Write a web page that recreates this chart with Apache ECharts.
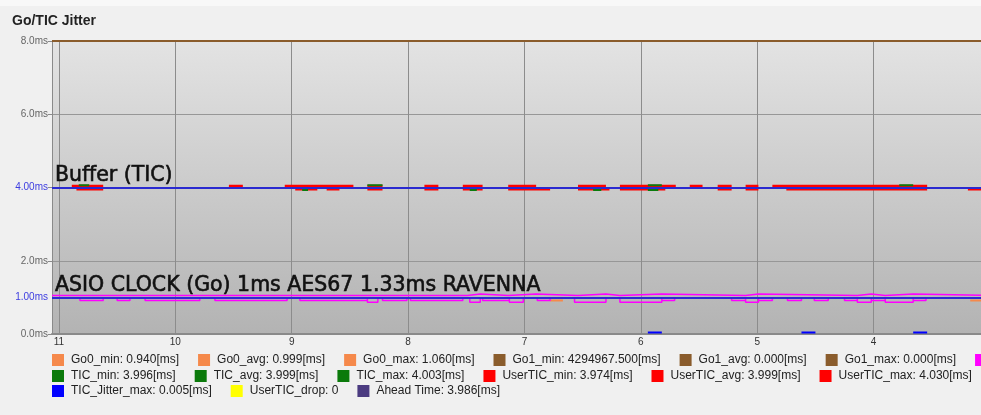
<!DOCTYPE html>
<html>
<head>
<meta charset="utf-8">
<script src="https://cdn.jsdelivr.net/npm/echarts@6/dist/echarts.min.js"></script>
<style>
html,body{margin:0;padding:0;background:#f0f0f0;}
#c{width:981px;height:415px;}
</style>
</head>
<body>
<div id="c"></div>
<script>
// ---- data (seconds ago on x, milliseconds on y) ----
const xTicks = [11, 10, 9, 8, 7, 6, 5, 4];
const yTicks = [0, 2, 4, 6, 8];
const xLeft = 11.06, xRight = 3.0;

const legendRow1 = ['Go0_min: 0.940[ms]', 'Go0_avg: 0.999[ms]', 'Go0_max: 1.060[ms]', 'Go1_min: 4294967.500[ms]', 'Go1_avg: 0.000[ms]', 'Go1_max: 0.000[ms]', 'Go_Jitter_max: 0.060[ms]'];
const legendRow2 = ['TIC_min: 3.996[ms]', 'TIC_avg: 3.999[ms]', 'TIC_max: 4.003[ms]', 'UserTIC_min: 3.974[ms]', 'UserTIC_avg: 3.999[ms]', 'UserTIC_max: 4.030[ms]'];
const legendRow3 = ['TIC_Jitter_max: 0.005[ms]', 'UserTIC_drop: 0', 'Ahead Time: 3.986[ms]'];

// reference lines and their annotations
const refLevels = [4.0, 1.0];
const refLabels = ['4.00ms', '1.00ms'];
const refNotes = ['Buffer (TIC)', 'ASIO CLOCK (Go) 1ms AES67 1.33ms RAVENNA'];

// segments [start, end] in seconds, with the level they sit at
const userTicMaxSegs = [[10.89,10.62],[9.54,9.42],[9.06,8.47],[8.35,8.22],[7.86,7.74],[7.53,7.36],[7.14,6.90],[6.54,6.30],[6.18,5.70],[5.58,5.47],[5.34,5.22],[5.10,4.99],[4.87,3.54]];
const userTicMaxLevel = 4.044;
const userTicMinSegs = [[10.85,10.62],[8.97,8.78],[8.70,8.59],[8.35,8.22],[7.86,7.74],[7.53,7.36],[7.14,6.78],[6.54,6.27],[6.18,5.79],[5.34,5.22],[5.10,4.99],[4.75,3.54],[3.19,3.0]];
const userTicMinLevel = 3.954;
const ticMaxSegs = [[10.83,10.74],[8.35,8.22],[5.94,5.82],[3.78,3.66]];
const ticMaxLevel = 4.06;
const ticMinSegs = [[8.91,8.86],[7.47,7.41],[6.41,6.34],[5.94,5.85]];
const ticMinLevel = 3.935;
const ticJitterSegs = [[5.94,5.82],[4.62,4.50],[3.66,3.54]];
const ticJitterLevel = 0.04;
const go0MinSegs = [[6.78,6.67],[3.17,3.0]];
const go0MinLevel = 0.915;
const go1MinSegs = [[11.06,3.0]];
const go1MinLevel = 8.0;   // 4294967.5 ms, pinned at the top of the scale

// Go jitter envelope (step lines): base level + [start, end, level] steps
const goHighBase = 1.05;
const goHighSteps = [[7.49,7.38,1.09],[7.14,6.90,1.09],[6.54,6.30,1.09],[6.18,5.82,1.09],[5.10,4.99,1.09],[4.14,4.02,1.09],[3.90,3.66,1.09]];
const goLowBase = 0.98;
const goLowSteps = [[10.82,10.62,0.915],[10.50,10.39,0.915],[10.26,9.79,0.915],[9.66,9.04,0.915],[8.93,8.35,0.915],[8.35,8.26,0.87],[8.22,8.01,0.915],[7.98,7.53,0.915],[7.47,7.38,0.87],[7.36,7.13,0.915],[7.13,7.01,0.87],[6.89,6.78,0.915],[6.57,6.30,0.87],[6.18,5.82,0.87],[5.82,5.71,0.915],[5.22,5.10,0.915],[5.10,4.99,0.87],[4.99,4.87,0.915],[4.74,4.62,0.915],[4.51,4.39,0.915],[4.25,4.14,0.915],[4.14,4.02,0.87],[4.02,3.90,0.915],[3.90,3.66,0.87],[3.66,3.55,0.915]];

// ---- builders ----
function segData(segs, level) {
  const out = [];
  segs.forEach(function (s) { out.push([s[0], level], [s[1], level], null); });
  return out;
}
function stepData(base, steps) {
  const out = [[xLeft, base]];
  steps.forEach(function (s) { out.push([s[0], base], [s[0], s[2]], [s[1], s[2]], [s[1], base]); });
  out.push([xRight, base]);
  return out;
}

const C = {
  go0: '#f5894b', go1: '#8a5c2c', goJ: '#ff00ff', tic: '#0b7a0b', user: '#ff0000',
  jit: '#0000ff', drop: '#ffff00', ahead: '#4b3b80', ref: '#2a2ad0'
};

function line(name, color, data, width, z) {
  return {
    name: name, type: 'line', data: data, color: color, showSymbol: false, symbol: 'none',
    connectNulls: false, lineStyle: { width: width || 2, color: color }, z: z || 2,
    itemStyle: { color: color }, silent: true, animation: false
  };
}

const series = [
  line(legendRow1[0], C.go0, segData(go0MinSegs, go0MinLevel), 2),
  line(legendRow1[1], C.go0, []),
  line(legendRow1[2], C.go0, []),
  line(legendRow1[3], C.go1, segData(go1MinSegs, go1MinLevel), 2),
  line(legendRow1[4], C.go1, []),
  line(legendRow1[5], C.go1, []),
  line(legendRow1[6], C.goJ, stepData(goHighBase, goHighSteps), 1.5),
  line(legendRow1[6], C.goJ, stepData(goLowBase, goLowSteps), 1.5),
  line(legendRow2[0], C.tic, segData(ticMinSegs, ticMinLevel), 2, 4),
  line(legendRow2[1], C.tic, []),
  line(legendRow2[2], C.tic, segData(ticMaxSegs, ticMaxLevel), 2, 4),
  line(legendRow2[3], C.user, segData(userTicMinSegs, userTicMinLevel), 2.4, 3),
  line(legendRow2[4], C.user, []),
  line(legendRow2[5], C.user, segData(userTicMaxSegs, userTicMaxLevel), 2.4, 3),
  line(legendRow3[0], C.jit, segData(ticJitterSegs, ticJitterLevel), 2),
  line(legendRow3[1], C.drop, []),
  line(legendRow3[2], C.ahead, []),
  {
    name: 'ref', type: 'line', data: [], z: 6, silent: true, animation: false, clip: false,
    markLine: {
      silent: true, symbol: 'none', animation: false, clip: false,
      data: refLevels.map(function (v, i) {
        return {
          yAxis: v, lineStyle: { color: C.ref, width: 2, type: 'solid' },
          label: { show: true, position: 'end', formatter: refLabels[i], color: '#3c3ce0',
                   fontSize: 10, fontFamily: 'Liberation Sans', distance: 4 }
        };
      }).concat(refLevels.map(function (v, i) {
        return {
          yAxis: v, lineStyle: { color: 'rgba(0,0,0,0)', width: 1 },
          label: { show: true, position: 'insideEndTop', formatter: refNotes[i], color: '#111',
                   textBorderColor: '#111', textBorderWidth: 0.6,
                   fontSize: 20.5, fontFamily: 'DejaVu Sans', distance: [3, 1] }
        };
      }))
    }
  }
];

function legendRow(names, top) {
  return {
    data: names, left: 52, top: top, width: 3000, padding: 0, orient: 'horizontal',
    itemGap: 19, itemWidth: 12, itemHeight: 12, icon: 'rect', selectedMode: false,
    textStyle: { fontFamily: 'Liberation Sans', fontSize: 12, color: '#222', padding: [0, 0, 0, 2] }
  };
}

const chart = echarts.init(document.getElementById('c'), null, { renderer: 'canvas' });
chart.setOption({
  animation: false,
  backgroundColor: '#f0f0f0',
  title: {
    text: 'Go/TIC Jitter', left: 12, top: 14, padding: 0,
    textStyle: { fontFamily: 'Liberation Sans', fontSize: 14, fontWeight: 'bold', color: '#222' }
  },
  grid: {
    left: 52, right: -9, top: 41, bottom: 81, show: true, borderWidth: 0,
    outerBoundsMode: 'none', containLabel: false,
    backgroundColor: new echarts.graphic.LinearGradient(0, 0, 0, 1, [
      { offset: 0, color: '#e3e3e3' }, { offset: 1, color: '#b3b3b3' }
    ])
  },
  xAxis: {
    type: 'value', inverse: true, min: xRight, max: xLeft, interval: 1,
    axisLine: { show: true, onZero: false, lineStyle: { color: '#8a8a8a', width: 2 } },
    axisTick: { show: false },
    axisLabel: {
      margin: 3, fontSize: 10, color: '#333', fontFamily: 'Liberation Sans',
      formatter: function (v) { return xTicks.indexOf(v) >= 0 ? String(v) : ''; }
    },
    splitLine: { show: true, lineStyle: { color: '#8c8c8c', width: 1 } }
  },
  yAxis: {
    type: 'value', min: 0, max: 8, interval: 2,
    axisLine: { show: true, onZero: false, lineStyle: { color: '#8a8a8a', width: 1 } },
    axisTick: { show: true, length: 4, lineStyle: { color: '#8a8a8a' } },
    axisLabel: {
      margin: 4, fontSize: 10, color: '#666', fontFamily: 'Liberation Sans',
      formatter: function (v) { return (yTicks.indexOf(v) >= 0 && refLevels.indexOf(v) < 0) ? v.toFixed(1) + 'ms' : ''; }
    },
    splitLine: { show: true, lineStyle: { color: '#979797', width: 1 } }
  },
  legend: [legendRow(legendRow1, 354), legendRow(legendRow2, 370), legendRow(legendRow3, 385)],
  graphic: [{ type: 'rect', shape: { x: 0, y: 0, width: 981, height: 6 }, style: { fill: '#f8f8f8' }, silent: true, z: -1 }],
  series: series
});
</script>
</body>
</html>
